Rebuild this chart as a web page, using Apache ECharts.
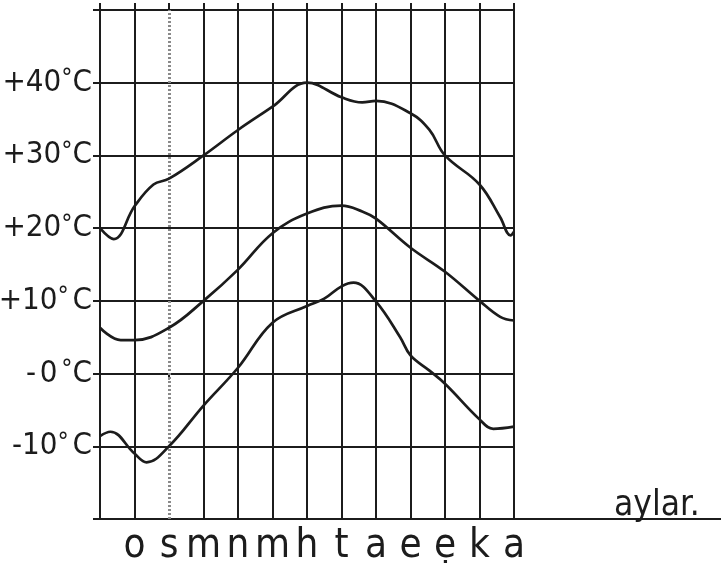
<!DOCTYPE html>
<html>
<head>
<meta charset="utf-8">
<script src="https://cdn.jsdelivr.net/npm/echarts@6/dist/echarts.min.js"></script>
<style>
html,body{margin:0;padding:0;background:#fff;}
#c{width:721px;height:563px;}
</style>
</head>
<body>
<div id="c"></div>
<script>
// month initials (index 0 = start of year, no label)
var monthLabels = ['', 'o', 's', 'm', 'n', 'm', 'h', 't', 'a', 'e', 'ẹ', 'k', 'a'];
var yTickValues = [-20, -10, 0, 10, 20, 30, 40, 50];
var yTickLabels = ['', '-10° C', '- 0 °C', '+10° C', '+20°C', '+30°C', '+40°C', ''];
var axisName = 'aylar.';

// [month position, °C]
var maxTemp = [[0,20],[0.4,18.5],[1,23],[1.55,26],[2,26.8],[3,30],[4,33.5],[5,36.7],[6,40],[7,38],[7.6,37.3],[8,37.5],[9,35.8],[9.55,33.5],[10,30],[11,26],[11.6,21.5],[11.9,19],[12,19.5]];
var meanTemp = [[0,6.3],[0.6,4.6],[1,4.6],[2,6.3],[3,10],[4,14.3],[5,19.3],[6,22],[7,23.1],[7.6,22.3],[8,21.3],[9,17.3],[10,14],[11,10],[11.6,7.8],[12,7.3]];
var minTemp = [[0,-8.6],[0.3,-8],[1,-11],[1.35,-12.2],[2,-10],[3,-4.4],[4,0.8],[5,7],[6,9.3],[6.5,10.3],[7,12],[7.35,12.5],[8,9.9],[8.7,5],[9,2.5],[9.55,0.4],[10,-1.4],[11,-6.3],[11.4,-7.6],[12,-7.3]];

var INK = '#1c1c1c';
var FONT = '"DejaVu Sans Condensed", "Liberation Sans Narrow", sans-serif';

var chart = echarts.init(document.getElementById('c'), null, {renderer: 'canvas'});

var splitColors = [];
for (var i = 0; i < monthLabels.length; i++) splitColors.push(i === 2 ? 'rgba(0,0,0,0)' : INK);

function curve(data) {
  return {
    type: 'line', data: data, smooth: 0.4, showSymbol: false, symbol: 'none',
    lineStyle: {color: INK, width: 2.7}, silent: true, z: 5
  };
}

// wrap a tick label into rich-text tokens: raised degree sign and narrow spaces
function richLabel(txt) {
  var out = '', buf = '';
  for (var j = 0; j < txt.length; j++) {
    var ch = txt[j];
    if (ch === '°' || ch === ' ') {
      if (buf) { out += '{a|' + buf + '}'; buf = ''; }
      out += (ch === '°') ? '{d|°}' : '{s| }';
    } else {
      buf += ch;
    }
  }
  if (buf) out += '{a|' + buf + '}';
  return out;
}

var option = {
  backgroundColor: '#fff',
  animation: false,
  grid: {left: 100, right: 207, top: 10, bottom: 44, containLabel: false, outerBoundsMode: 'none'},
  xAxis: [{
    type: 'value', min: 0, max: 12, interval: 1,
    axisLine: {show: true, lineStyle: {color: INK, width: 2}},
    axisTick: {show: true, length: 6, lineStyle: {color: INK, width: 2}},
    axisLabel: {
      show: true, margin: 8, color: INK, fontFamily: FONT, fontSize: 40,
      formatter: function (v) { return monthLabels[Math.round(v)] || ''; }
    },
    splitLine: {show: true, lineStyle: {color: splitColors, width: 2}}
  }, {
    type: 'value', min: 0, max: 12, interval: 1, position: 'top',
    axisLine: {show: false},
    axisTick: {show: true, length: 7, lineStyle: {color: INK, width: 2}},
    axisLabel: {show: false},
    splitLine: {show: false}
  }],
  yAxis: {
    type: 'value', min: -20, max: 50, interval: 10,
    axisLine: {show: true, lineStyle: {color: INK, width: 2}},
    axisTick: {show: true, length: 7, lineStyle: {color: INK, width: 2}},
    axisLabel: {
      show: true, margin: 8, color: INK, fontFamily: FONT,
      formatter: function (v) {
        var k = yTickValues.indexOf(Math.round(v));
        return k >= 0 && yTickLabels[k] ? richLabel(yTickLabels[k]) : '';
      },
      rich: {
        a: {fontSize: 31, fontFamily: FONT, color: INK},
        d: {fontSize: 25, fontFamily: FONT, color: INK, verticalAlign: 'top'},
        s: {fontSize: 13, fontFamily: FONT, color: INK}
      }
    },
    splitLine: {show: true, lineStyle: {color: INK, width: 2}}
  },
  series: [
    curve(maxTemp), curve(meanTemp), curve(minTemp),
    {
      type: 'line', data: [], silent: true,
      markLine: {
        silent: true, symbol: 'none', label: {show: false},
        lineStyle: {color: '#8a8a8a', type: [2, 2], width: 3},
        data: [{xAxis: 2}]
      }
    }
  ]
};
chart.setOption(option);

// extend the month axis line to the right edge and put its name on it
var pEnd = chart.convertToPixel({xAxisIndex: 0, yAxisIndex: 0}, [12, -20]);
chart.setOption({
  graphic: [{
    type: 'line', silent: true,
    shape: {x1: pEnd[0], y1: pEnd[1], x2: 721, y2: pEnd[1]},
    style: {stroke: INK, lineWidth: 2}
  }, {
    type: 'text', silent: true, left: 614, top: pEnd[1] - 31,
    style: {text: axisName, fill: INK, font: '35px ' + FONT}
  }]
});
</script>
</body>
</html>
